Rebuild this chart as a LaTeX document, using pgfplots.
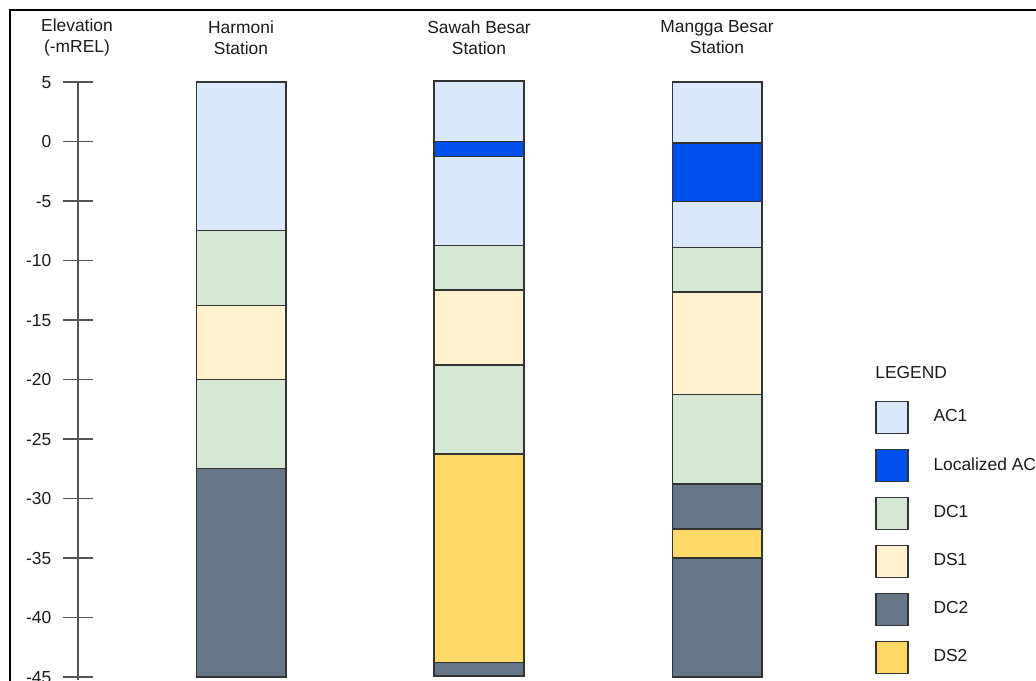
\documentclass[border=0pt]{standalone}
\usepackage{fontspec}
\setmainfont{Liberation Sans}
\usepackage{pgfplots}
\pgfplotsset{compat=1.18}

\definecolor{ac1}{HTML}{DAE8FC}
\definecolor{locac}{HTML}{0050EF}
\definecolor{dc1}{HTML}{D5E8D4}
\definecolor{ds1}{HTML}{FFF2CC}
\definecolor{dc2}{HTML}{647687}
\definecolor{ds2}{HTML}{FFD966}
\definecolor{edge}{HTML}{333333}
\definecolor{axisgray}{HTML}{555555}
\definecolor{txt}{HTML}{1A1A1A}

\newcommand{\lfont}{\fontsize{8.7}{10.5}\selectfont}

\pgfplotsset{layerstyle/.style={draw=edge, line width=0.75pt, line join=miter}}

% one soil layer: left x, right x, top elevation, bottom elevation, fill colour
\newcommand{\layer}[5]{%
  \addplot[layerstyle, fill=#5, forget plot] coordinates {(#1,#3) (#2,#3) (#2,#4) (#1,#4)} -- cycle;}

\begin{document}
\begin{tikzpicture}
\useasboundingbox (0,0) rectangle (518pt,340pt);
\clip (0,0) rectangle (518pt,340pt);
\begin{axis}[
  at={(0,0)}, anchor=south west,
  scale only axis, width=518pt, height=298.9pt,
  xmin=-78, xmax=958, ymin=-45.24, ymax=5,
  clip=false,
  axis x line=none, axis y line=middle,
  y axis line style={-, draw=axisgray, line width=0.7pt},
  ytick={-45,-40,...,5},
  tick align=center, major tick length=15pt,
  tick style={draw=axisgray, line width=0.75pt},
  yticklabel style={font=\lfont, text=txt, anchor=east, xshift=-2.3pt},
  /pgf/number format/assume math mode=true,
  legend style={at={(axis cs:797,-21.76)}, anchor=north west,
    draw=none, fill=none, inner sep=0pt, outer sep=0pt,
    row sep=7.25pt, column sep=12.5pt, font=\lfont, text=txt,
    nodes={inner sep=0pt, anchor=west}},
  legend cell align=left,
  legend image code/.code={\draw[#1] (0pt,-8pt) rectangle (16pt,8pt);},
]
% Harmoni Station
\layer{118.5}{208}{5}{-7.46}{ac1}
\layer{118.5}{208}{-7.46}{-13.78}{dc1}
\layer{118.5}{208}{-13.78}{-20.0}{ds1}
\layer{118.5}{208}{-20.0}{-27.48}{dc1}
\layer{118.5}{208}{-27.48}{-45.0}{dc2}
% Sawah Besar Station
\layer{356}{446}{5.1}{0.0}{ac1}
\layer{356}{446}{0.0}{-1.26}{locac}
\layer{356}{446}{-1.26}{-8.74}{ac1}
\layer{356}{446}{-8.74}{-12.46}{dc1}
\layer{356}{446}{-12.46}{-18.76}{ds1}
\layer{356}{446}{-18.76}{-26.25}{dc1}
\layer{356}{446}{-26.25}{-43.75}{ds2}
\layer{356}{446}{-43.75}{-44.9}{dc2}
% Mangga Besar Station
\layer{594.5}{684}{5}{-0.13}{ac1}
\layer{594.5}{684}{-0.13}{-5.04}{locac}
\layer{594.5}{684}{-5.04}{-8.9}{ac1}
\layer{594.5}{684}{-8.9}{-12.65}{dc1}
\layer{594.5}{684}{-12.65}{-21.23}{ds1}
\layer{594.5}{684}{-21.23}{-28.76}{dc1}
\layer{594.5}{684}{-28.76}{-32.55}{dc2}
\layer{594.5}{684}{-32.55}{-35.0}{ds2}
\layer{594.5}{684}{-35.0}{-45.0}{dc2}

\addlegendimage{layerstyle, fill=ac1}\addlegendentry{AC1}
\addlegendimage{layerstyle, fill=locac}\addlegendentry{Localized AC}
\addlegendimage{layerstyle, fill=dc1}\addlegendentry{DC1}
\addlegendimage{layerstyle, fill=ds1}\addlegendentry{DS1}
\addlegendimage{layerstyle, fill=dc2}\addlegendentry{DC2}
\addlegendimage{layerstyle, fill=ds2}\addlegendentry{DS2}

% column headings
\node[align=center, font=\lfont, text=txt] at (axis cs:-1,8.75) {Elevation\\(-mREL)};
\node[align=center, font=\lfont, text=txt] at (axis cs:163,8.75) {Harmoni\\Station};
\node[align=center, font=\lfont, text=txt] at (axis cs:401,8.75) {Sawah Besar\\Station};
\node[align=center, font=\lfont, text=txt] at (axis cs:639,8.75) {Mangga Besar\\Station};
\node[anchor=west, inner sep=0pt, font=\lfont, text=txt] at (axis cs:797,-19.41) {LEGEND};

% outer frame
\draw[black, line width=1pt] (axis cs:-68,-60) |- (axis cs:1100,11.03);
\end{axis}
\end{tikzpicture}
\end{document}
